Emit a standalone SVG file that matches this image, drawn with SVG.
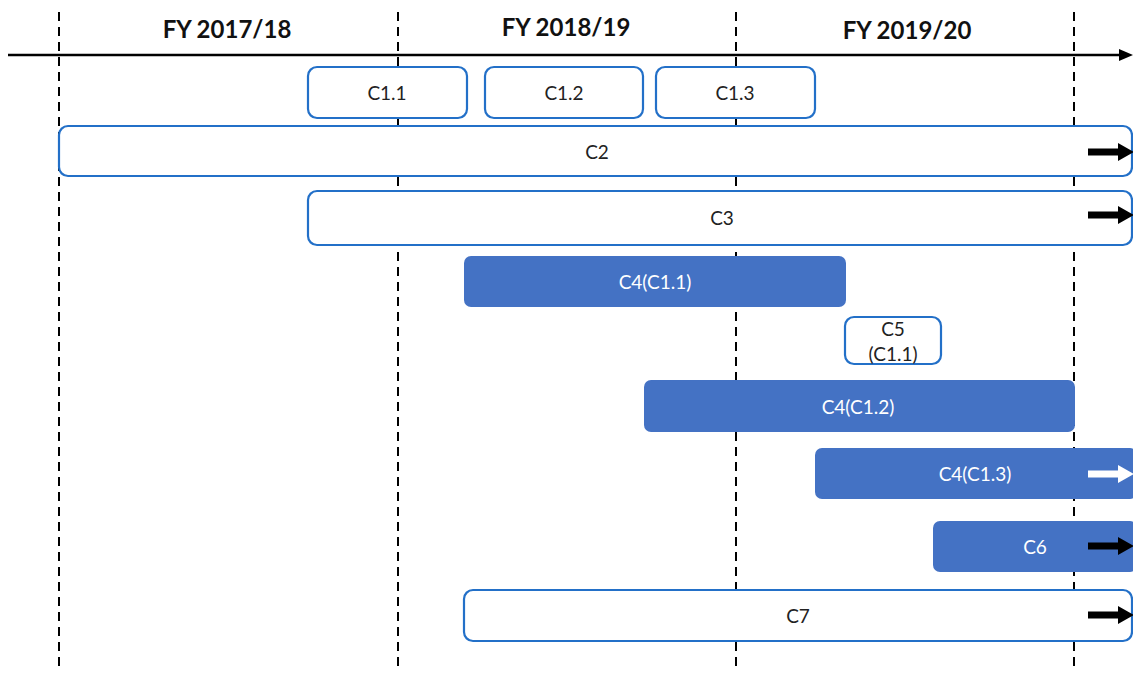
<svg xmlns="http://www.w3.org/2000/svg" width="1133" height="673" viewBox="0 0 1133 673">
  <defs>
    <style>
      .grid { stroke: #000; stroke-width: 2; stroke-dasharray: 9 6; fill: none; }
      .axis { stroke: #000; stroke-width: 2.5; fill: none; }
      .hdr { font-family: Lato, "Open Sans", "Liberation Sans", sans-serif; font-weight: bold; font-size: 24px; fill: #111; text-anchor: middle; }
      .box { fill: #fff; stroke: #2370C8; stroke-width: 2.2; }
      .bar { fill: #4472C4; stroke: none; }
      .lbl { font-family: Lato, "Open Sans", "Liberation Sans", sans-serif; font-size: 19px; fill: #222; text-anchor: middle; }
      .lbl-w { font-family: Lato, "Open Sans", "Liberation Sans", sans-serif; font-size: 19px; fill: #fff; text-anchor: middle; }
      .arr-k { fill: #000; }
      .arr-w { fill: #fff; }
    </style>
    <!-- continuation arrow, tip at origin -->
    <path id="cont" d="M-46,-3.5 L-16,-3.5 L-16,-9 L0,0 L-16,9 L-16,3.5 L-46,3.5 Z"/>
  </defs>

  <!-- fiscal-year grid lines -->
  <g id="grid">
    <line class="grid" x1="59" y1="12" x2="59" y2="668"/>
    <line class="grid" x1="398" y1="12" x2="398" y2="668"/>
    <line class="grid" x1="736" y1="12" x2="736" y2="668"/>
    <line class="grid" x1="1074" y1="12" x2="1074" y2="668"/>
  </g>

  <!-- time axis -->
  <g id="axis">
    <line class="axis" x1="8" y1="55" x2="1124" y2="55"/>
    <path d="M1133,55 L1119,49 L1119,61 Z" fill="#000"/>
  </g>

  <g id="headers">
    <text class="hdr" x="227" y="38">FY 2017/18</text>
    <text class="hdr" x="566" y="36">FY 2018/19</text>
    <text class="hdr" x="907" y="39">FY 2019/20</text>
  </g>

  <g id="c1-1">
    <rect class="box" x="308" y="67" width="159" height="51" rx="9"/>
    <text class="lbl" x="387" y="100">C1.1</text>
  </g>
  <g id="c1-2">
    <rect class="box" x="485" y="67" width="158" height="51" rx="9"/>
    <text class="lbl" x="564" y="100">C1.2</text>
  </g>
  <g id="c1-3">
    <rect class="box" x="656" y="67" width="159" height="51" rx="9"/>
    <text class="lbl" x="735" y="100">C1.3</text>
  </g>
  <g id="c2">
    <rect class="box" x="59" y="126" width="1073" height="50" rx="9"/>
    <text class="lbl" x="597" y="159">C2</text>
    <use href="#cont" class="arr-k" x="1134" y="152"/>
  </g>
  <g id="c3">
    <rect class="box" x="308" y="191" width="824" height="54" rx="9"/>
    <text class="lbl" x="722" y="225">C3</text>
    <use href="#cont" class="arr-k" x="1134" y="215"/>
  </g>
  <g id="c4-1">
    <rect class="bar" x="464" y="256" width="382" height="51" rx="7"/>
    <text class="lbl-w" x="655" y="289">C4(C1.1)</text>
  </g>
  <g id="c5">
    <rect class="box" x="845" y="317" width="96" height="47" rx="9"/>
    <text class="lbl" x="893" y="336">C5</text>
    <text class="lbl" x="893" y="361">(C1.1)</text>
  </g>
  <g id="c4-2">
    <rect class="bar" x="644" y="380" width="431" height="52" rx="7"/>
    <text class="lbl-w" x="858" y="414">C4(C1.2)</text>
  </g>
  <g id="c4-3">
    <rect class="bar" x="815" y="448" width="322" height="51" rx="7"/>
    <text class="lbl-w" x="975" y="481">C4(C1.3)</text>
    <use href="#cont" class="arr-w" x="1134" y="474"/>
  </g>
  <g id="c6">
    <rect class="bar" x="933" y="521" width="204" height="51" rx="7"/>
    <text class="lbl-w" x="1035" y="554">C6</text>
    <use href="#cont" class="arr-k" x="1134" y="546"/>
  </g>
  <g id="c7">
    <rect class="box" x="464" y="590" width="668" height="51" rx="9"/>
    <text class="lbl" x="798" y="623">C7</text>
    <use href="#cont" class="arr-k" x="1134" y="615"/>
  </g>
</svg>
